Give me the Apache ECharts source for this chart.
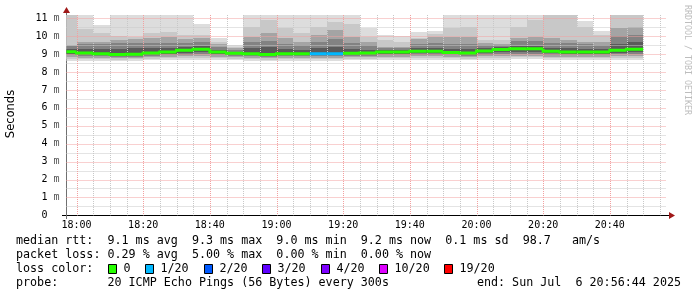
<!DOCTYPE html>
<html><head><meta charset="utf-8">
<script src="https://cdn.jsdelivr.net/npm/echarts@6/dist/echarts.min.js"></script>
<style>html,body{margin:0;padding:0;background:#fff}#c{width:697px;height:297px}</style>
</head><body><div id="c"></div>
<script>
// ---- data (5-minute columns, end time of each column) ----
const colEnd = ['18:00','18:05','18:10','18:15','18:20','18:25','18:30','18:35','18:40','18:45',
  '18:50','18:55','19:00','19:05','19:10','19:15','19:20','19:25','19:30','19:35',
  '19:40','19:45','19:50','19:55','20:00','20:05','20:10','20:15','20:20','20:25',
  '20:30','20:35','20:40','20:45','20:50'];
// smoke band edges (ms): outer pair (min/max) to inner pairs
const pMax = [11.19,11.19,10.63,11.19,11.19,11.19,11.19,11.19,10.67,9.89,9.51,11.19,11.19,11.19,11.19,11.19,11.19,11.19,10.45,10.10,10.00,10.22,10.30,11.19,11.19,11.19,11.19,11.19,11.19,11.19,11.19,10.87,10.29,11.19,11.19];
const bHi = [11.19,10.40,10.20,10.00,9.95,10.17,10.26,10.10,10.07,9.70,9.42,10.54,10.91,10.45,10.17,10.54,10.82,10.70,9.95,9.80,9.70,9.93,10.15,10.45,10.54,9.80,9.80,10.54,10.91,11.19,11.19,10.54,10.07,11.19,11.19];
const cHi = [9.53,9.70,9.70,9.80,9.85,9.90,9.98,9.85,9.93,9.57,9.33,9.98,10.17,9.89,9.70,10.07,10.35,9.95,9.70,9.42,9.42,9.85,9.95,9.98,9.98,9.60,9.55,9.89,9.98,9.89,9.80,9.70,9.70,10.45,10.54];
const dHi = [9.45,9.55,9.55,9.60,9.62,9.60,9.65,9.65,9.70,9.40,9.25,9.70,9.75,9.55,9.50,9.70,9.85,9.60,9.50,9.35,9.35,9.55,9.60,9.55,9.55,9.50,9.50,9.75,9.75,9.65,9.60,9.55,9.50,10.00,10.10];
const eHi = [9.30,9.30,9.28,9.30,9.32,9.32,9.35,9.42,9.45,9.25,9.15,9.35,9.40,9.28,9.25,9.32,9.40,9.30,9.25,9.22,9.22,9.32,9.33,9.30,9.28,9.32,9.38,9.48,9.48,9.36,9.32,9.30,9.28,9.55,9.70];
const median = [9.14,9.07,9.03,8.98,9.00,9.07,9.12,9.22,9.27,9.12,9.05,9.03,8.98,9.03,9.03,9.03,9.03,9.05,9.07,9.12,9.12,9.17,9.17,9.10,9.07,9.18,9.26,9.31,9.30,9.16,9.12,9.12,9.12,9.22,9.27];
const eLo = [9.02,8.98,8.95,8.92,8.93,8.98,9.02,9.08,9.10,9.02,8.97,8.95,8.92,8.95,8.95,8.96,8.96,8.97,8.98,9.02,9.02,9.05,9.05,9.00,8.98,9.06,9.10,9.12,9.12,9.04,9.02,9.02,9.02,9.08,9.10];
const dLo = [8.95,8.90,8.88,8.86,8.87,8.91,8.94,8.98,9.00,8.95,8.91,8.88,8.86,8.88,8.89,8.89,8.89,8.90,8.91,8.95,8.95,8.97,8.97,8.93,8.91,8.98,9.00,9.02,9.02,8.96,8.94,8.94,8.94,8.99,9.01];
const cLo = [8.85,8.80,8.80,8.79,8.80,8.82,8.85,8.88,8.90,8.86,8.84,8.80,8.78,8.80,8.81,8.81,8.81,8.82,8.83,8.86,8.86,8.88,8.88,8.85,8.83,8.88,8.90,8.92,8.92,8.87,8.86,8.86,8.86,8.89,8.90];
const bLo = [8.75,8.72,8.72,8.70,8.72,8.74,8.76,8.78,8.80,8.76,8.75,8.72,8.70,8.72,8.73,8.73,8.73,8.74,8.75,8.77,8.77,8.78,8.78,8.76,8.75,8.78,8.80,8.82,8.82,8.78,8.77,8.77,8.77,8.79,8.80];
const pMin = [8.64,8.62,8.64,8.62,8.63,8.65,8.66,8.67,8.68,8.66,8.66,8.63,8.61,8.63,8.64,8.64,8.64,8.65,8.66,8.67,8.67,8.68,8.68,8.66,8.65,8.68,8.70,8.71,8.71,8.68,8.67,8.67,8.67,8.69,8.70];
// lost pings per column (of 20)
const loss = [0,0,0,0,0,0,0,0,0,0,0,0,0,0,0,1,1,0,0,0,0,0,0,0,0,0,0,0,0,0,0,0,0,0,0];
// legend / loss colours
const lossLabels = ['0','1/20','2/20','3/20','4/20','10/20','19/20'];
const lossThresh = [0,1,2,3,4,10,19];
const lossColors = ['#26ff00','#00b8ff','#0059ff','#5e00ff','#7e00ff','#dd00ff','#ff0000'];
// axis ticks
const xTickLabels = ['18:00','18:20','18:40','19:00','19:20','19:40','20:00','20:20','20:40'];
const yTicks = [0,1,2,3,4,5,6,7,8,9,10,11];
const statLines = [
  'median rtt:  9.1 ms avg  9.3 ms max  9.0 ms min  9.2 ms now  0.1 ms sd  98.7   am/s',
  'packet loss: 0.29 % avg  5.00 % max  0.00 % min  0.00 % now'
];
const probeText = 'probe:       20 ICMP Echo Pings (56 Bytes) every 300s';
const endText = 'end: Sun Jul  6 20:56:44 2025';

// ---- build ----
const toMin = s => { const p = s.split(':').map(Number); return p[0]*60 + p[1]; };
const STEP = 5;
const X_MIN = toMin('17:57'), X_MAX = toMin('20:57'), Y_MAX = 11.19;
const bandColors = ['#dddddd','#c8c8c8','#a4a4a4','#828282','#5a5a5a'];
const bands = [[pMin,pMax],[bLo,bHi],[cLo,cHi],[dLo,dHi],[eLo,eHi]];
const smokeData = [];
bands.forEach((b, bi) => colEnd.forEach((t, i) => {
  const e = toMin(t);
  smokeData.push([e - STEP, e, b[0][i], b[1][i], bi]);
}));
const lossIdx = n => { let k = 0; lossThresh.forEach((t, j) => { if (n >= t) k = j; }); return k; };
const medData = colEnd.map((t, i) => {
  const e = toMin(t);
  return [e - STEP, e, median[i], lossIdx(loss[i]),
          i > 0 ? median[i-1] : NaN, i > 0 ? lossIdx(loss[i-1]) : -1];
});
const gridData = [];
for (let m = toMin('18:00'); m < X_MAX; m += 5) gridData.push([0, m]);
xTickLabels.forEach(s => gridData.push([1, toMin(s)]));
for (let v = 0.5; v <= Y_MAX; v += 1) gridData.push([2, v]);
yTicks.forEach(v => { if (v > 0) gridData.push([3, v]); });

function clipRect(r, cs) {
  return echarts.graphic.clipRectByRect(r, {x: cs.x, y: cs.y, width: cs.width, height: cs.height});
}
function renderSmoke(params, api) {
  const cs = params.coordSys;
  const a = api.coord([api.value(0), api.value(3)]);
  const b = api.coord([api.value(1), api.value(2)]);
  const x0 = Math.round(a[0]), x1 = Math.round(b[0]);
  const y0 = Math.round(a[1]), y1 = Math.round(b[1]);
  const r = clipRect({x: x0, y: y0, width: x1 - x0, height: y1 - y0}, cs);
  if (!r) return null;
  return {type: 'rect', shape: r, style: {fill: bandColors[api.value(4)]}};
}
function renderGrid(params, api) {
  const cs = params.coordSys;
  const kind = api.value(0), v = api.value(1);
  let shape;
  if (kind < 2) {
    const x = Math.round(api.coord([v, 0])[0]) + 0.5;
    shape = {x1: x, y1: cs.y, x2: x, y2: cs.y + cs.height};
  } else {
    const y = Math.round(api.coord([X_MIN, v])[1]) + 0.5;
    shape = {x1: cs.x, y1: y, x2: cs.x + cs.width, y2: y};
  }
  const major = (kind === 1 || kind === 3);
  return {type: 'line', shape: shape, z2: major ? 2 : 1,
    style: {stroke: major ? '#f2a0a0' : '#c8c8c8', lineWidth: 1, lineDash: [1, 1]}};
}
function renderMedian(params, api) {
  const s = Math.max(api.value(0), X_MIN), e = api.value(1);
  const a = api.coord([s, api.value(2)]);
  const b = api.coord([e, api.value(2)]);
  const pts = [];
  if (api.value(5) === api.value(3) && !isNaN(api.value(4))) {
    pts.push(api.coord([s, api.value(4)]));
  }
  pts.push(a, b);
  return {type: 'polyline', shape: {points: pts},
    style: {stroke: lossColors[api.value(3)], lineWidth: 3, fill: null, lineJoin: 'miter', lineCap: 'butt'}};
}

const mono = 'DejaVu Sans Mono';
const graphics = [];
// axes lines + arrows
graphics.push({type: 'line', shape: {x1: 62, y1: 215.5, x2: 670, y2: 215.5}, style: {stroke: '#000', lineWidth: 1}});
graphics.push({type: 'polygon', shape: {points: [[669, 212], [675, 215.5], [669, 219]]}, style: {fill: '#a01818'}});
graphics.push({type: 'line', shape: {x1: 66.5, y1: 219, x2: 66.5, y2: 12}, style: {stroke: '#707070', lineWidth: 1}});
graphics.push({type: 'polygon', shape: {points: [[63, 13], [66.5, 7], [70, 13]]}, style: {fill: '#a01818'}});
// titles
graphics.push({type: 'text', x: 11, y: 114, rotation: Math.PI / 2,
  style: {x: 0, y: 0, text: 'Seconds', font: '11.5px "DejaVu Sans"', fill: '#000',
    textAlign: 'center', align: 'center', textVerticalAlign: 'middle', verticalAlign: 'middle'}});
graphics.push({type: 'text', x: 687, y: 60, rotation: -Math.PI / 2,
  style: {x: 0, y: 0, text: 'RRDTOOL / TOBI OETIKER', font: '8.3px "' + mono + '"', fill: '#bdbdbd',
    textAlign: 'center', align: 'center', textVerticalAlign: 'middle', verticalAlign: 'middle'}});
// stats text
const lineY = [241, 255, 269, 283];
statLines.forEach((t, i) => graphics.push({type: 'text',
  style: {x: 16, y: lineY[i], text: t, font: '11.7px "' + mono + '"', fill: '#000',
    textAlign: 'left', align: 'left', textVerticalAlign: 'middle', verticalAlign: 'middle'}}));
graphics.push({type: 'text', style: {x: 16, y: lineY[2], text: 'loss color:', font: '11.7px "' + mono + '"', fill: '#000',
  textAlign: 'left', align: 'left', textVerticalAlign: 'middle', verticalAlign: 'middle'}});
const boxX = [108.5, 145.5, 204.5, 262.5, 321.5, 379.5, 444.5];
lossLabels.forEach((l, i) => {
  graphics.push({type: 'rect', shape: {x: boxX[i], y: lineY[2] - 4.5, width: 8, height: 9},
    style: {fill: lossColors[i], stroke: '#000', lineWidth: 1}});
  graphics.push({type: 'text', style: {x: boxX[i] + 15, y: lineY[2], text: l, font: '11.7px "' + mono + '"', fill: '#000',
    textAlign: 'left', align: 'left', textVerticalAlign: 'middle', verticalAlign: 'middle'}});
});
graphics.push({type: 'text', style: {x: 16, y: lineY[3], text: probeText, font: '11.7px "' + mono + '"', fill: '#000',
  textAlign: 'left', align: 'left', textVerticalAlign: 'middle', verticalAlign: 'middle'}});
graphics.push({type: 'text', style: {x: 681, y: lineY[3], text: endText, font: '11.7px "' + mono + '"', fill: '#000',
  textAlign: 'right', align: 'right', textVerticalAlign: 'middle', verticalAlign: 'middle'}});

const chart = echarts.init(document.getElementById('c'), null, {renderer: 'canvas'});
chart.setOption({
  animation: false,
  backgroundColor: '#ffffff',
  grid: {left: 66.5, top: 15, width: 600, height: 200.3, containLabel: false},
  xAxis: {type: 'value', min: X_MIN, max: X_MAX,
    axisLine: {show: false}, axisTick: {show: false}, splitLine: {show: false},
    axisLabel: {customValues: xTickLabels.map(toMin), margin: 5, color: '#000', fontFamily: mono, fontSize: 10,
      formatter: v => { const h = Math.floor(v / 60), m = v % 60; return h + ':' + (m < 10 ? '0' : '') + m; }}},
  yAxis: {type: 'value', min: 0, max: Y_MAX,
    axisLine: {show: false}, axisTick: {show: false}, splitLine: {show: false},
    axisLabel: {customValues: yTicks, margin: 7, color: '#000', fontFamily: mono, fontSize: 10,
      formatter: v => v === 0 ? '0  ' : v + ' {m|m}',
      rich: {m: {color: '#555', fontFamily: mono, fontSize: 10}}}},
  series: [
    {type: 'custom', name: 'smoke', renderItem: renderSmoke, data: smokeData, z: 1, silent: true},
    {type: 'custom', name: 'grid', renderItem: renderGrid, data: gridData, z: 2, silent: true},
    {type: 'custom', name: 'median', renderItem: renderMedian, data: medData, z: 3, silent: true, clip: true}
  ],
  graphic: graphics
});
</script></body></html>
